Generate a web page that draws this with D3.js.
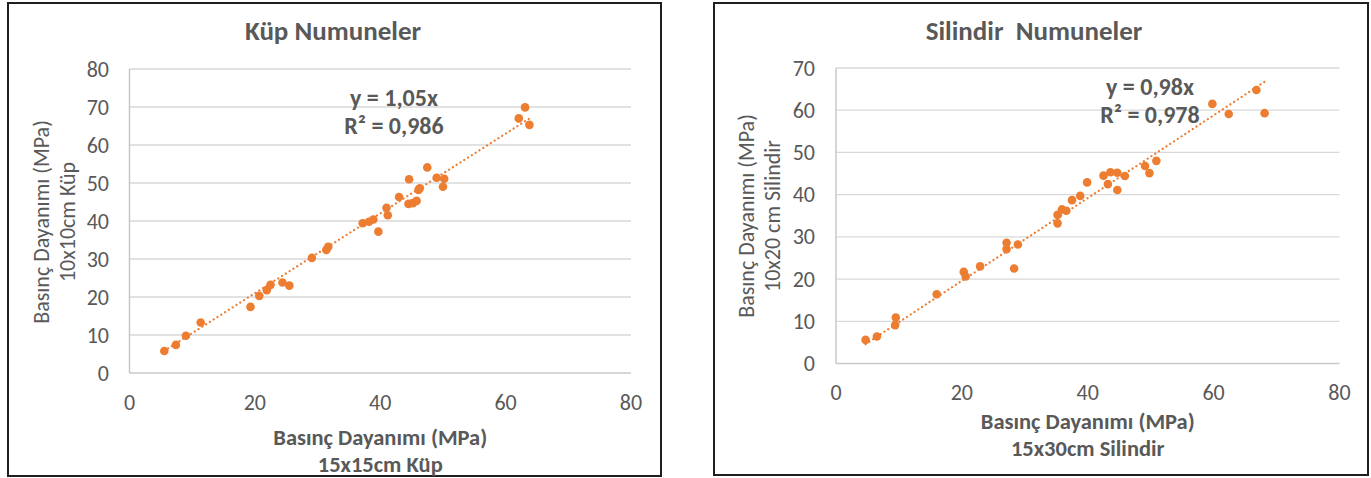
<!DOCTYPE html>
<html>
<head>
<meta charset="utf-8">
<script src="https://cdnjs.cloudflare.com/ajax/libs/d3/7.8.5/d3.min.js"></script>
<style>
  body { margin: 0; background: #fff; }
  svg text { font-family: Carlito, Lato, "Open Sans", sans-serif; fill: #595959; }
</style>
</head>
<body>
<svg id="chart" width="1371" height="478"></svg>
<script>
// values (MPa)
var cubeX = [5.55, 7.4, 9.0, 11.35, 19.3, 20.7, 21.9, 22.5, 24.4, 25.5, 29.1, 31.4, 31.7,
             37.2, 38.2, 38.9, 39.7, 41.0, 41.2, 43.0, 44.5, 45.2, 45.8, 46.1, 46.3, 44.6,
             47.5, 49.0, 50.2, 50.0, 62.1, 63.1, 63.8];
var cubeY = [5.8, 7.4, 9.8, 13.3, 17.4, 20.3, 21.8, 23.2, 23.8, 23.0, 30.3, 32.4, 33.2,
             39.4, 39.8, 40.4, 37.2, 43.5, 41.5, 46.3, 44.5, 44.7, 45.3, 48.2, 48.6, 51.0,
             54.1, 51.4, 51.1, 49.0, 67.0, 69.9, 65.3];

var cylX = [4.7, 6.5, 9.4, 9.5, 16.0, 20.3, 20.6, 22.9, 27.1, 27.1, 28.3, 28.9, 35.2,
            35.2, 35.9, 36.6, 37.5, 38.8, 39.9, 42.5, 43.6, 44.7, 45.9, 43.2, 44.7, 49.1,
            49.8, 50.9, 59.8, 62.4, 66.8, 68.1];
var cylY = [5.6, 6.4, 9.1, 10.9, 16.4, 21.7, 20.6, 23.0, 28.6, 27.1, 22.5, 28.2, 33.2,
            35.2, 36.5, 36.2, 38.7, 39.7, 42.9, 44.5, 45.3, 45.2, 44.4, 42.5, 41.1, 46.8,
            45.1, 48.0, 61.5, 59.1, 64.8, 59.3];

var xTicks = [0, 20, 40, 60, 80];
var cubeYTicks = [0, 10, 20, 30, 40, 50, 60, 70, 80];
var cylYTicks = [0, 10, 20, 30, 40, 50, 60, 70];

var cubeSlope = 1.05, cylSlope = 0.98;
var cubeEq = ["y = 1,05x", "R² = 0,986"];
var cylEq = ["y = 0,98x", "R² = 0,978"];

var orange = "#ED7D31";
var svg = d3.select("#chart");

function drawPanel(p) {
    var g = svg.append("g");

    // frame
    g.append("rect")
        .attr("x", p.frame[0]).attr("y", p.frame[1])
        .attr("width", p.frame[2]).attr("height", p.frame[3])
        .attr("fill", "#fff").attr("stroke", "#1f1f1f").attr("stroke-width", 2);

    var x = d3.scaleLinear().domain([0, 80]).range([p.left, p.right]);
    var y = d3.scaleLinear().domain([0, p.yMax]).range([p.bottom, p.top]);

    // horizontal gridlines
    g.append("g").selectAll("line").data(p.yTicks.slice(1)).join("line")
        .attr("x1", p.left).attr("x2", p.right)
        .attr("y1", function (d) { return y(d); }).attr("y2", function (d) { return y(d); })
        .attr("stroke", "#d9d9d9").attr("stroke-width", 1.3);

    // axis lines
    g.append("line").attr("x1", p.left).attr("x2", p.right)
        .attr("y1", y(0)).attr("y2", y(0)).attr("stroke", "#c8c8c8").attr("stroke-width", 1.5);
    g.append("line").attr("x1", p.left).attr("x2", p.left)
        .attr("y1", y(0)).attr("y2", y(p.yMax)).attr("stroke", "#c8c8c8").attr("stroke-width", 1.5);

    // tick labels
    g.append("g").selectAll("text").data(xTicks).join("text")
        .attr("x", function (d) { return x(d); }).attr("y", p.xLabelY)
        .attr("text-anchor", "middle").attr("dominant-baseline", "central")
        .style("font-size", "22px").text(function (d) { return d; });
    g.append("g").selectAll("text").data(p.yTicks).join("text")
        .attr("x", p.yLabelX).attr("y", function (d) { return y(d); })
        .attr("text-anchor", "end").attr("dominant-baseline", "central")
        .style("font-size", "22px").text(function (d) { return d; });

    // title
    g.append("text").attr("x", p.titleX).attr("y", 30)
        .attr("text-anchor", "middle").attr("dominant-baseline", "central")
        .style("font-size", "27px").style("font-weight", "bold").style("white-space", "pre")
        .text(p.title);

    // x axis title (two lines)
    g.append("g").selectAll("text").data(p.xTitle).join("text")
        .attr("x", (p.left + p.right) / 2)
        .attr("y", function (d, i) { return p.xTitleY + i * 27; })
        .attr("text-anchor", "middle").attr("dominant-baseline", "central")
        .style("font-size", "22.5px").style("font-weight", "bold")
        .text(function (d) { return d; });

    // y axis title (two lines, rotated)
    g.append("g").selectAll("text").data(p.yTitle).join("text")
        .attr("transform", function (d, i) {
            return "translate(" + (p.yTitleX + i * 26) + "," + p.yTitleMid + ") rotate(-90)";
        })
        .attr("text-anchor", "middle").attr("dominant-baseline", "central")
        .style("font-size", "22px")
        .text(function (d) { return d; });

    // trendline through origin, over data x range
    var xs = d3.extent(p.xs);
    g.append("line")
        .attr("x1", x(xs[0])).attr("y1", y(p.slope * xs[0]))
        .attr("x2", x(xs[1])).attr("y2", y(p.slope * xs[1]))
        .attr("stroke", orange).attr("stroke-width", 2.2)
        .attr("stroke-dasharray", "0.1,4.4").attr("stroke-linecap", "round");

    // points
    g.append("g").selectAll("circle").data(p.xs).join("circle")
        .attr("cx", function (d) { return x(d); })
        .attr("cy", function (d, i) { return y(p.ys[i]); })
        .attr("r", 4.3).attr("fill", orange);

    // equation label
    g.append("g").selectAll("text").data(p.eq).join("text")
        .attr("x", p.eqX).attr("y", function (d, i) { return p.eqY + i * 28; })
        .attr("text-anchor", "middle").attr("dominant-baseline", "central")
        .style("font-size", "24px").style("font-weight", "bold")
        .text(function (d) { return d; });
}

drawPanel({
    frame: [8, 3, 653, 473],
    left: 129.5, right: 631, top: 69, bottom: 373, yMax: 80,
    yTicks: cubeYTicks, xLabelY: 402, yLabelX: 109,
    title: "Küp Numuneler", titleX: 333,
    xTitle: ["Basınç Dayanımı (MPa)", "15x15cm Küp"], xTitleY: 437,
    yTitle: ["Basınç Dayanımı (MPa)", "10x10cm Küp"], yTitleX: 41, yTitleMid: 222,
    xs: cubeX, ys: cubeY, slope: cubeSlope,
    eq: cubeEq, eqX: 394, eqY: 97
});

drawPanel({
    frame: [714, 3, 654, 472],
    left: 836, right: 1339.5, top: 68, bottom: 363.5, yMax: 70,
    yTicks: cylYTicks, xLabelY: 392, yLabelX: 815,
    title: "Silindir  Numuneler", titleX: 1034,
    xTitle: ["Basınç Dayanımı (MPa)", "15x30cm Silindir"], xTitleY: 421,
    yTitle: ["Basınç Dayanımı (MPa)", "10x20 cm Silindir"], yTitleX: 746, yTitleMid: 216,
    xs: cylX, ys: cylY, slope: cylSlope,
    eq: cylEq, eqX: 1150, eqY: 86
});
</script>
</body>
</html>
